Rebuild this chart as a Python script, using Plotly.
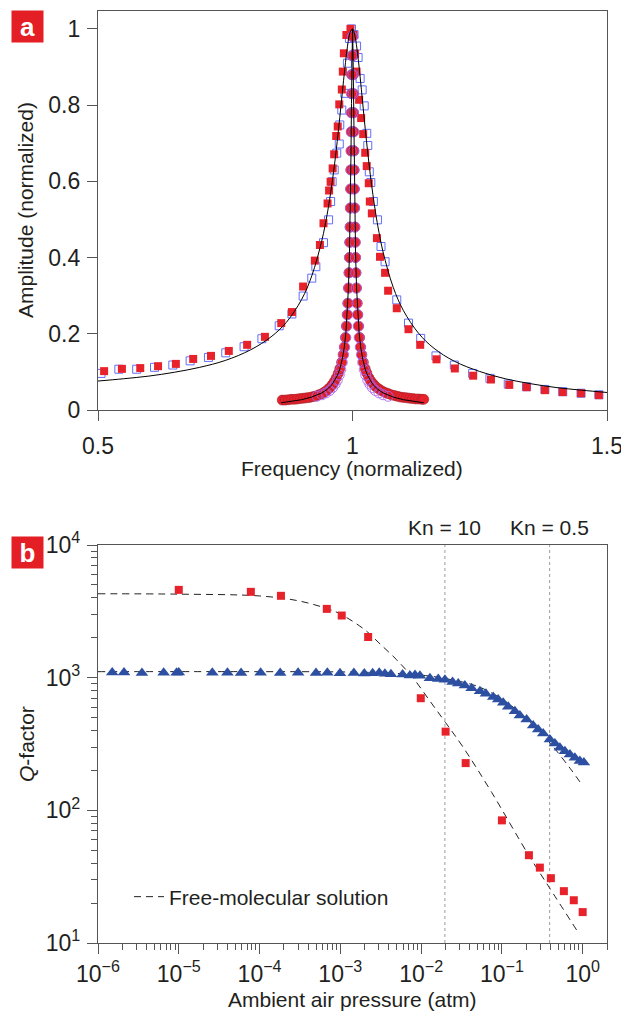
import numpy as np
import plotly.graph_objects as go

# ── Panel a: resonance curves (normalized) ───────────────────────────────────
wide_f_red = [0.512, 0.547, 0.583, 0.618, 0.653, 0.687, 0.722, 0.757, 0.793, 0.828,
              0.860, 0.881, 0.903, 0.926, 0.936, 0.943, 0.951, 0.954, 0.957, 0.961,
              0.964, 0.968, 0.971, 0.974, 0.979, 0.981, 0.983, 0.988, 0.996, 1.002,
              1.005, 1.008, 1.013, 1.017, 1.021, 1.025, 1.028, 1.032, 1.034, 1.038,
              1.048, 1.054, 1.064, 1.070, 1.087, 1.110, 1.133, 1.165, 1.201, 1.237,
              1.272, 1.308, 1.342, 1.378, 1.413, 1.449, 1.484]
wide_amp_red = [0.102, 0.108, 0.110, 0.115, 0.121, 0.134, 0.142, 0.155, 0.171, 0.192,
                0.228, 0.257, 0.324, 0.392, 0.433, 0.490, 0.542, 0.576, 0.599, 0.634,
                0.671, 0.719, 0.744, 0.802, 0.841, 0.888, 0.936, 0.984, 1.000, 0.984,
                0.935, 0.888, 0.814, 0.766, 0.724, 0.675, 0.640, 0.595, 0.547, 0.516,
                0.451, 0.402, 0.360, 0.313, 0.267, 0.212, 0.171, 0.133, 0.109, 0.090,
                0.080, 0.066, 0.060, 0.052, 0.047, 0.044, 0.039]

wide_f_blue = [0.506, 0.541, 0.576, 0.611, 0.647, 0.681, 0.717, 0.751, 0.787, 0.822,
               0.856, 0.881, 0.903, 0.920, 0.928, 0.943, 0.953, 0.957, 0.960, 0.964,
               0.969, 0.974, 0.975, 0.979, 0.985, 0.990, 0.994, 0.998, 1.003, 1.008,
               1.011, 1.015, 1.019, 1.023, 1.028, 1.030, 1.033, 1.036, 1.041, 1.049,
               1.056, 1.064, 1.087, 1.110, 1.134, 1.164, 1.200, 1.236, 1.270, 1.306,
               1.342, 1.378, 1.413, 1.449, 1.484]
wide_amp_blue = [0.096, 0.107, 0.107, 0.112, 0.118, 0.129, 0.138, 0.150, 0.166, 0.187,
                 0.221, 0.252, 0.299, 0.346, 0.376, 0.439, 0.499, 0.547, 0.599, 0.630,
                 0.674, 0.698, 0.748, 0.787, 0.831, 0.910, 0.975, 1.000, 0.985, 0.955,
                 0.925, 0.870, 0.840, 0.798, 0.726, 0.694, 0.625, 0.597, 0.547, 0.499,
                 0.429, 0.389, 0.289, 0.228, 0.188, 0.142, 0.118, 0.096, 0.083, 0.068,
                 0.061, 0.054, 0.048, 0.044, 0.040]

narrow_f_red = [0.862, 0.868, 0.874, 0.880, 0.886, 0.892, 0.898, 0.904, 0.910, 0.916,
                0.922, 0.928, 0.934, 0.940, 0.945, 0.950, 0.955, 0.960, 0.964, 0.968,
                0.972, 0.975, 0.9786, 0.9816, 0.9839, 0.9861, 0.9880, 0.9895, 0.9907,
                0.9920, 0.9930, 0.9938, 0.9945, 0.9951, 0.9957, 0.9962, 0.9967, 0.9971,
                0.9975, 0.9978, 0.9982, 0.9985, 0.9989, 0.9995,
                1.0005, 1.0011, 1.0015, 1.0018, 1.0022, 1.0025, 1.0029, 1.0033, 1.0038,
                1.0043, 1.0049, 1.0055, 1.0062, 1.0070, 1.0080, 1.0093, 1.0105, 1.0120,
                1.0140, 1.0161, 1.0184, 1.0214, 1.025, 1.028, 1.032, 1.036, 1.041,
                1.046, 1.052, 1.058, 1.064, 1.070, 1.076, 1.082, 1.088, 1.094, 1.100,
                1.106, 1.112, 1.118, 1.124, 1.130, 1.136, 1.140]
narrow_amp_red = [0.026, 0.026, 0.027, 0.028, 0.028, 0.029, 0.030, 0.031, 0.032, 0.033,
                  0.035, 0.037, 0.040, 0.043, 0.047, 0.052, 0.058, 0.066, 0.074, 0.084,
                  0.096, 0.108, 0.125, 0.145, 0.165, 0.19, 0.22, 0.25, 0.28,
                  0.32, 0.36, 0.40, 0.44, 0.48, 0.53, 0.58, 0.63, 0.68,
                  0.73, 0.78, 0.83, 0.88, 0.93, 0.98,
                  0.98, 0.93, 0.88, 0.83, 0.78, 0.73, 0.68, 0.63, 0.58,
                  0.53, 0.48, 0.44, 0.40, 0.36, 0.32, 0.28, 0.25, 0.22,
                  0.19, 0.165, 0.145, 0.125, 0.108, 0.097, 0.085, 0.076, 0.068,
                  0.061, 0.055, 0.050, 0.046, 0.043, 0.040, 0.038, 0.036, 0.034, 0.033,
                  0.032, 0.031, 0.030, 0.029, 0.029, 0.028, 0.028]

narrow_f_blue = [0.930, 0.940, 0.948, 0.955, 0.961, 0.966, 0.970, 0.974, 0.977, 0.980,
                 0.9825, 0.9848, 0.9870, 0.9887, 0.9902, 0.9914, 0.9926, 0.9935, 0.9943,
                 0.9950, 0.9955, 0.9961, 0.9966, 0.9970, 0.9974, 0.9977, 0.9981, 0.9984,
                 0.9987, 0.9991, 0.9996, 1.0004, 1.0009, 1.0013, 1.0016, 1.0019, 1.0023,
                 1.0026, 1.0030, 1.0034, 1.0039, 1.0045, 1.0050, 1.0057, 1.0065, 1.0074,
                 1.0086, 1.0098, 1.0113, 1.0130, 1.0152, 1.0175, 1.0200, 1.023, 1.026,
                 1.030, 1.034, 1.039, 1.045, 1.052, 1.060, 1.070]
narrow_amp_blue = [0.036, 0.040, 0.045, 0.051, 0.059, 0.068, 0.078, 0.092, 0.106, 0.125,
                   0.145, 0.165, 0.19, 0.22, 0.25, 0.28, 0.32, 0.36, 0.40,
                   0.44, 0.48, 0.53, 0.58, 0.63, 0.68, 0.73, 0.78, 0.83,
                   0.88, 0.93, 0.98, 0.98, 0.93, 0.88, 0.83, 0.78, 0.73,
                   0.68, 0.63, 0.58, 0.53, 0.48, 0.44, 0.40, 0.36, 0.32,
                   0.28, 0.25, 0.22, 0.19, 0.165, 0.145, 0.125, 0.106, 0.092,
                   0.078, 0.068, 0.059, 0.051, 0.045, 0.040, 0.036]

wide_fit_f = [0.50, 0.55, 0.60, 0.65, 0.70, 0.75, 0.80, 0.84, 0.87, 0.90, 0.92, 0.94,
              0.95, 0.955, 0.96, 0.965, 0.97, 0.975, 0.98, 0.985, 0.99, 0.995, 1.00,
              1.005, 1.01, 1.015, 1.02, 1.025, 1.03, 1.035, 1.04, 1.045, 1.05, 1.06,
              1.08, 1.10, 1.13, 1.16, 1.20, 1.25, 1.30, 1.35, 1.40, 1.45, 1.50]
wide_fit_amp = [0.076, 0.082, 0.089, 0.099, 0.112, 0.130, 0.158, 0.192, 0.230, 0.290,
                0.352, 0.446, 0.512, 0.552, 0.597, 0.648, 0.705, 0.768, 0.833, 0.897,
                0.953, 0.990, 1.000, 0.980, 0.935, 0.874, 0.806, 0.738, 0.675, 0.617,
                0.566, 0.521, 0.481, 0.415, 0.322, 0.261, 0.201, 0.162, 0.128, 0.101,
                0.082, 0.069, 0.059, 0.052, 0.046]

narrow_fit_f = [0.86, 0.88, 0.90, 0.92, 0.94, 0.95, 0.96, 0.97, 0.975, 0.98, 0.984,
                0.987, 0.990, 0.992, 0.994, 0.995, 0.996, 0.997, 0.998, 0.999, 1.000,
                1.001, 1.002, 1.003, 1.004, 1.005, 1.006, 1.008, 1.010, 1.013, 1.016,
                1.020, 1.025, 1.030, 1.040, 1.050, 1.060, 1.080, 1.100, 1.120, 1.140]
narrow_fit_amp = [0.019, 0.023, 0.027, 0.034, 0.045, 0.054, 0.067, 0.090, 0.107, 0.134,
                  0.166, 0.203, 0.261, 0.320, 0.410, 0.475, 0.559, 0.669, 0.804, 0.938,
                  1.000, 0.938, 0.804, 0.669, 0.559, 0.475, 0.410, 0.320, 0.261, 0.203,
                  0.166, 0.134, 0.107, 0.090, 0.067, 0.054, 0.045, 0.034, 0.027, 0.023,
                  0.019]

freq_ticks = [0.5, 1, 1.5]
freq_labels = ["0.5", "1", "1.5"]
amp_ticks = [0, 0.2, 0.4, 0.6, 0.8, 1]
amp_labels = ["0", "0.2", "0.4", "0.6", "0.8", "1"]

# ── Panel b: Q-factor vs pressure ─────────────────────────────────────────────
red_p = [1.0e-5, 7.8e-5, 1.84e-4, 6.8e-4, 1.04e-3, 2.21e-3, 9.9e-3, 0.0201, 0.0356,
         0.100, 0.216, 0.295, 0.404, 0.585, 0.776, 1.0]
red_q = [4590, 4435, 4140, 3300, 2940, 2025, 700, 392, 227, 84, 45.9, 37, 30.8, 24.6,
         21, 17.1]

blue_p = [1.5e-6, 2.1e-6, 3.5e-6, 6.5e-6, 9.4e-6, 1.0e-5, 2.6e-5, 4.0e-5, 5.9e-5,
          1.03e-4, 1.8e-4, 3.0e-4, 5.0e-4, 6.9e-4, 9.9e-4, 1.47e-3, 1.98e-3, 2.51e-3,
          3.03e-3, 3.56e-3, 4.23e-3, 5.9e-3, 7.26e-3, 8.4e-3, 9.66e-3, 0.01285, 0.0163,
          0.0197, 0.0245, 0.0288, 0.0348, 0.0422, 0.0535, 0.0634, 0.078, 0.0899, 0.1038,
          0.1197, 0.1449, 0.167, 0.2023, 0.2438, 0.281, 0.3243, 0.3926, 0.453, 0.5224,
          0.6026, 0.695, 0.80, 0.923, 1.035]
blue_q = [1092, 1092, 1085, 1090, 1090, 1092, 1088, 1090, 1086, 1088, 1086, 1088, 1086,
          1088, 1080, 1084, 1076, 1082, 1088, 1072, 1060, 1058, 1040, 1047, 1035, 988,
          977, 966, 929, 902, 871, 832, 789, 755, 716, 684, 646, 603, 558, 518, 483, 436,
          406, 379, 342, 319, 296, 279, 264, 249, 235, 229]

red_model_p = [1e-6, 1e-5, 1e-4, 3e-4, 7e-4, 1e-3, 2e-3, 3e-3, 5e-3, 8e-3, 0.013, 0.02,
               0.033, 0.075, 0.214, 0.374, 0.905]
red_model_q = [4290, 4260, 4130, 3800, 3300, 3020, 2300, 1830, 1360, 990, 660, 460,
               300, 136, 46, 27, 11.7]

blue_model_p = [1e-6, 1e-4, 1e-3, 3e-3, 1e-2, 2e-2, 5e-2, 0.1, 0.2, 0.4, 0.7, 0.97]
blue_model_q = [1110, 1110, 1105, 1090, 1045, 985, 860, 690, 495, 318, 207, 157]

kn_p = [0.0197, 0.39]
kn_labels = ["Kn = 10", "Kn = 0.5"]

p_exp = [-6, -5, -4, -3, -2, -1, 0]
q_exp = [1, 2, 3, 4]

# ── Styling ───────────────────────────────────────────────────────────────────
# the page body keeps its default 8px margin, so the figure is drawn 8px in
OFF = 8
W, H = 629 - OFF, 1019 - OFF
FONT = "Liberation Sans, Arial, Helvetica, sans-serif"
TXT = "#231f20"
RED = "#e8222b"
BLUE = "#2d4fa1"
AXC = "#555555"


def px_x(v):
    return (v - OFF) / W


def px_y(v):
    return 1 - (v - OFF) / H


def pow_label(e):
    s = str(e).replace("-", "\u2212")
    return f"10<sup>{s}</sup>"


def minor_vals(exps):
    out = []
    for e in exps:
        for k in range(2, 10):
            out.append(k * 10.0 ** e)
    return out


fig = go.Figure()

# panel a
fig.add_trace(go.Scatter(x=wide_f_blue, y=wide_amp_blue, mode="markers",
                         marker=dict(symbol="square-open", size=8,
                                     line=dict(color=BLUE, width=1)),
                         showlegend=False, xaxis="x", yaxis="y"))
fig.add_trace(go.Scatter(x=wide_f_red, y=wide_amp_red, mode="markers",
                         marker=dict(symbol="square", size=8, color=RED, line=dict(width=0)),
                         showlegend=False, xaxis="x", yaxis="y"))
fig.add_trace(go.Scatter(x=narrow_f_red, y=narrow_amp_red, mode="markers",
                         marker=dict(symbol="circle", size=10, color=RED,
                                     line=dict(color="#a0202a", width=0.6)),
                         showlegend=False, xaxis="x", yaxis="y"))
fig.add_trace(go.Scatter(x=narrow_f_blue, y=narrow_amp_blue, mode="markers",
                         marker=dict(symbol="circle-open", size=10,
                                     line=dict(color=BLUE, width=1)),
                         opacity=0.85, showlegend=False, xaxis="x", yaxis="y"))
fig.add_trace(go.Scatter(x=wide_fit_f, y=wide_fit_amp, mode="lines",
                         line=dict(color="black", width=1, shape="spline"),
                         showlegend=False, xaxis="x", yaxis="y"))
fig.add_trace(go.Scatter(x=narrow_fit_f, y=narrow_fit_amp, mode="lines",
                         line=dict(color="black", width=1),
                         showlegend=False, xaxis="x", yaxis="y"))

# panel b
for p in kn_p:
    fig.add_trace(go.Scatter(x=[p, p], y=[10, 10000], mode="lines",
                             line=dict(color="#9a9a9a", width=1, dash="dot"),
                             showlegend=False, xaxis="x2", yaxis="y2"))
fig.add_trace(go.Scatter(x=red_model_p, y=red_model_q, mode="lines",
                         line=dict(color="#222222", width=1, dash="7px,5px", shape="spline"),
                         name="Free-molecular solution", showlegend=True,
                         xaxis="x2", yaxis="y2"))
fig.add_trace(go.Scatter(x=blue_model_p, y=blue_model_q, mode="lines",
                         line=dict(color="#222222", width=1, dash="7px,5px", shape="spline"),
                         showlegend=False, xaxis="x2", yaxis="y2"))
fig.add_trace(go.Scatter(x=blue_p, y=blue_q, mode="markers",
                         marker=dict(symbol="triangle-up", size=11, color=BLUE,
                                     line=dict(width=0)),
                         showlegend=False, xaxis="x2", yaxis="y2"))
fig.add_trace(go.Scatter(x=red_p, y=red_q, mode="markers",
                         marker=dict(symbol="square", size=8, color=RED, line=dict(width=0)),
                         showlegend=False, xaxis="x2", yaxis="y2"))

axis_common = dict(showline=True, linecolor=AXC, linewidth=1.3, mirror=True,
                   ticks="outside", tickcolor=AXC, tickwidth=1.2, ticklen=10,
                   showgrid=False, zeroline=False, automargin=False,
                   tickfont=dict(family=FONT, size=23, color=TXT))

fig.update_layout(
    width=W, height=H,
    margin=dict(l=0, r=0, t=0, b=0),
    plot_bgcolor="white", paper_bgcolor="white",
    font=dict(family=FONT, size=21, color=TXT),
    xaxis=dict(domain=[px_x(98), px_x(607)], range=[0.5, 1.5], anchor="y",
               tickmode="array", tickvals=freq_ticks, ticktext=freq_labels,
               ticklabelstandoff=5, **axis_common),
    yaxis=dict(domain=[px_y(410), px_y(11)], range=[0, 1.047], anchor="x",
               tickmode="array", tickvals=amp_ticks, ticktext=amp_labels,
               ticklabelstandoff=2, **axis_common),
    xaxis2=dict(type="log", domain=[px_x(98), px_x(607)], range=[-6, np.log10(2)],
                anchor="y2", tickmode="array",
                tickvals=[10.0 ** e for e in p_exp], ticktext=[pow_label(e) for e in p_exp],
                minor=dict(ticks="outside", ticklen=6, tickcolor=AXC, tickwidth=1,
                           tickmode="array", tickvals=minor_vals(p_exp)),
                ticklabelstandoff=0, **axis_common),
    yaxis2=dict(type="log", domain=[px_y(943), px_y(545)], range=[1, 4], anchor="x2",
                tickmode="array",
                tickvals=[10.0 ** e for e in q_exp], ticktext=[pow_label(e) for e in q_exp],
                minor=dict(ticks="outside", ticklen=6, tickcolor=AXC, tickwidth=1,
                           tickmode="array", tickvals=minor_vals(q_exp[:-1])),
                ticklabelstandoff=2, **axis_common),
    legend=dict(x=px_x(129), y=px_y(897), xanchor="left", yanchor="middle",
                bgcolor="rgba(0,0,0,0)", font=dict(family=FONT, size=21, color=TXT),
                itemwidth=30),
)

annots = [
    dict(text="Frequency (normalized)", x=px_x(352), y=px_y(468)),
    dict(text="Amplitude (normalized)", x=px_x(26), y=px_y(210), textangle=-90),
    dict(text="Ambient air pressure (atm)", x=px_x(352), y=px_y(999)),
    dict(text="<i>Q</i>-factor", x=px_x(26), y=px_y(744), textangle=-90),
]
for a in annots:
    fig.add_annotation(xref="paper", yref="paper", showarrow=False,
                       xanchor="center", yanchor="middle",
                       font=dict(family=FONT, size=21, color=TXT), **a)

for p, lab in zip(kn_p, kn_labels):
    fig.add_annotation(xref="x2", yref="paper", x=np.log10(p), y=px_y(527),
                       text=lab, showarrow=False, xanchor="center", yanchor="middle",
                       font=dict(family=FONT, size=21, color=TXT))

for lab, yc in [("a", 26.5), ("b", 552.5)]:
    fig.add_annotation(xref="paper", yref="paper", x=px_x(27.5), y=px_y(yc),
                       text=f"<b>{lab}</b>", showarrow=False, width=31, height=31,
                       bgcolor="#e31e24", align="center", valign="middle",
                       xanchor="center", yanchor="middle", borderpad=0,
                       font=dict(family=FONT, size=26, color="white"))

fig.write_html("out.html")
